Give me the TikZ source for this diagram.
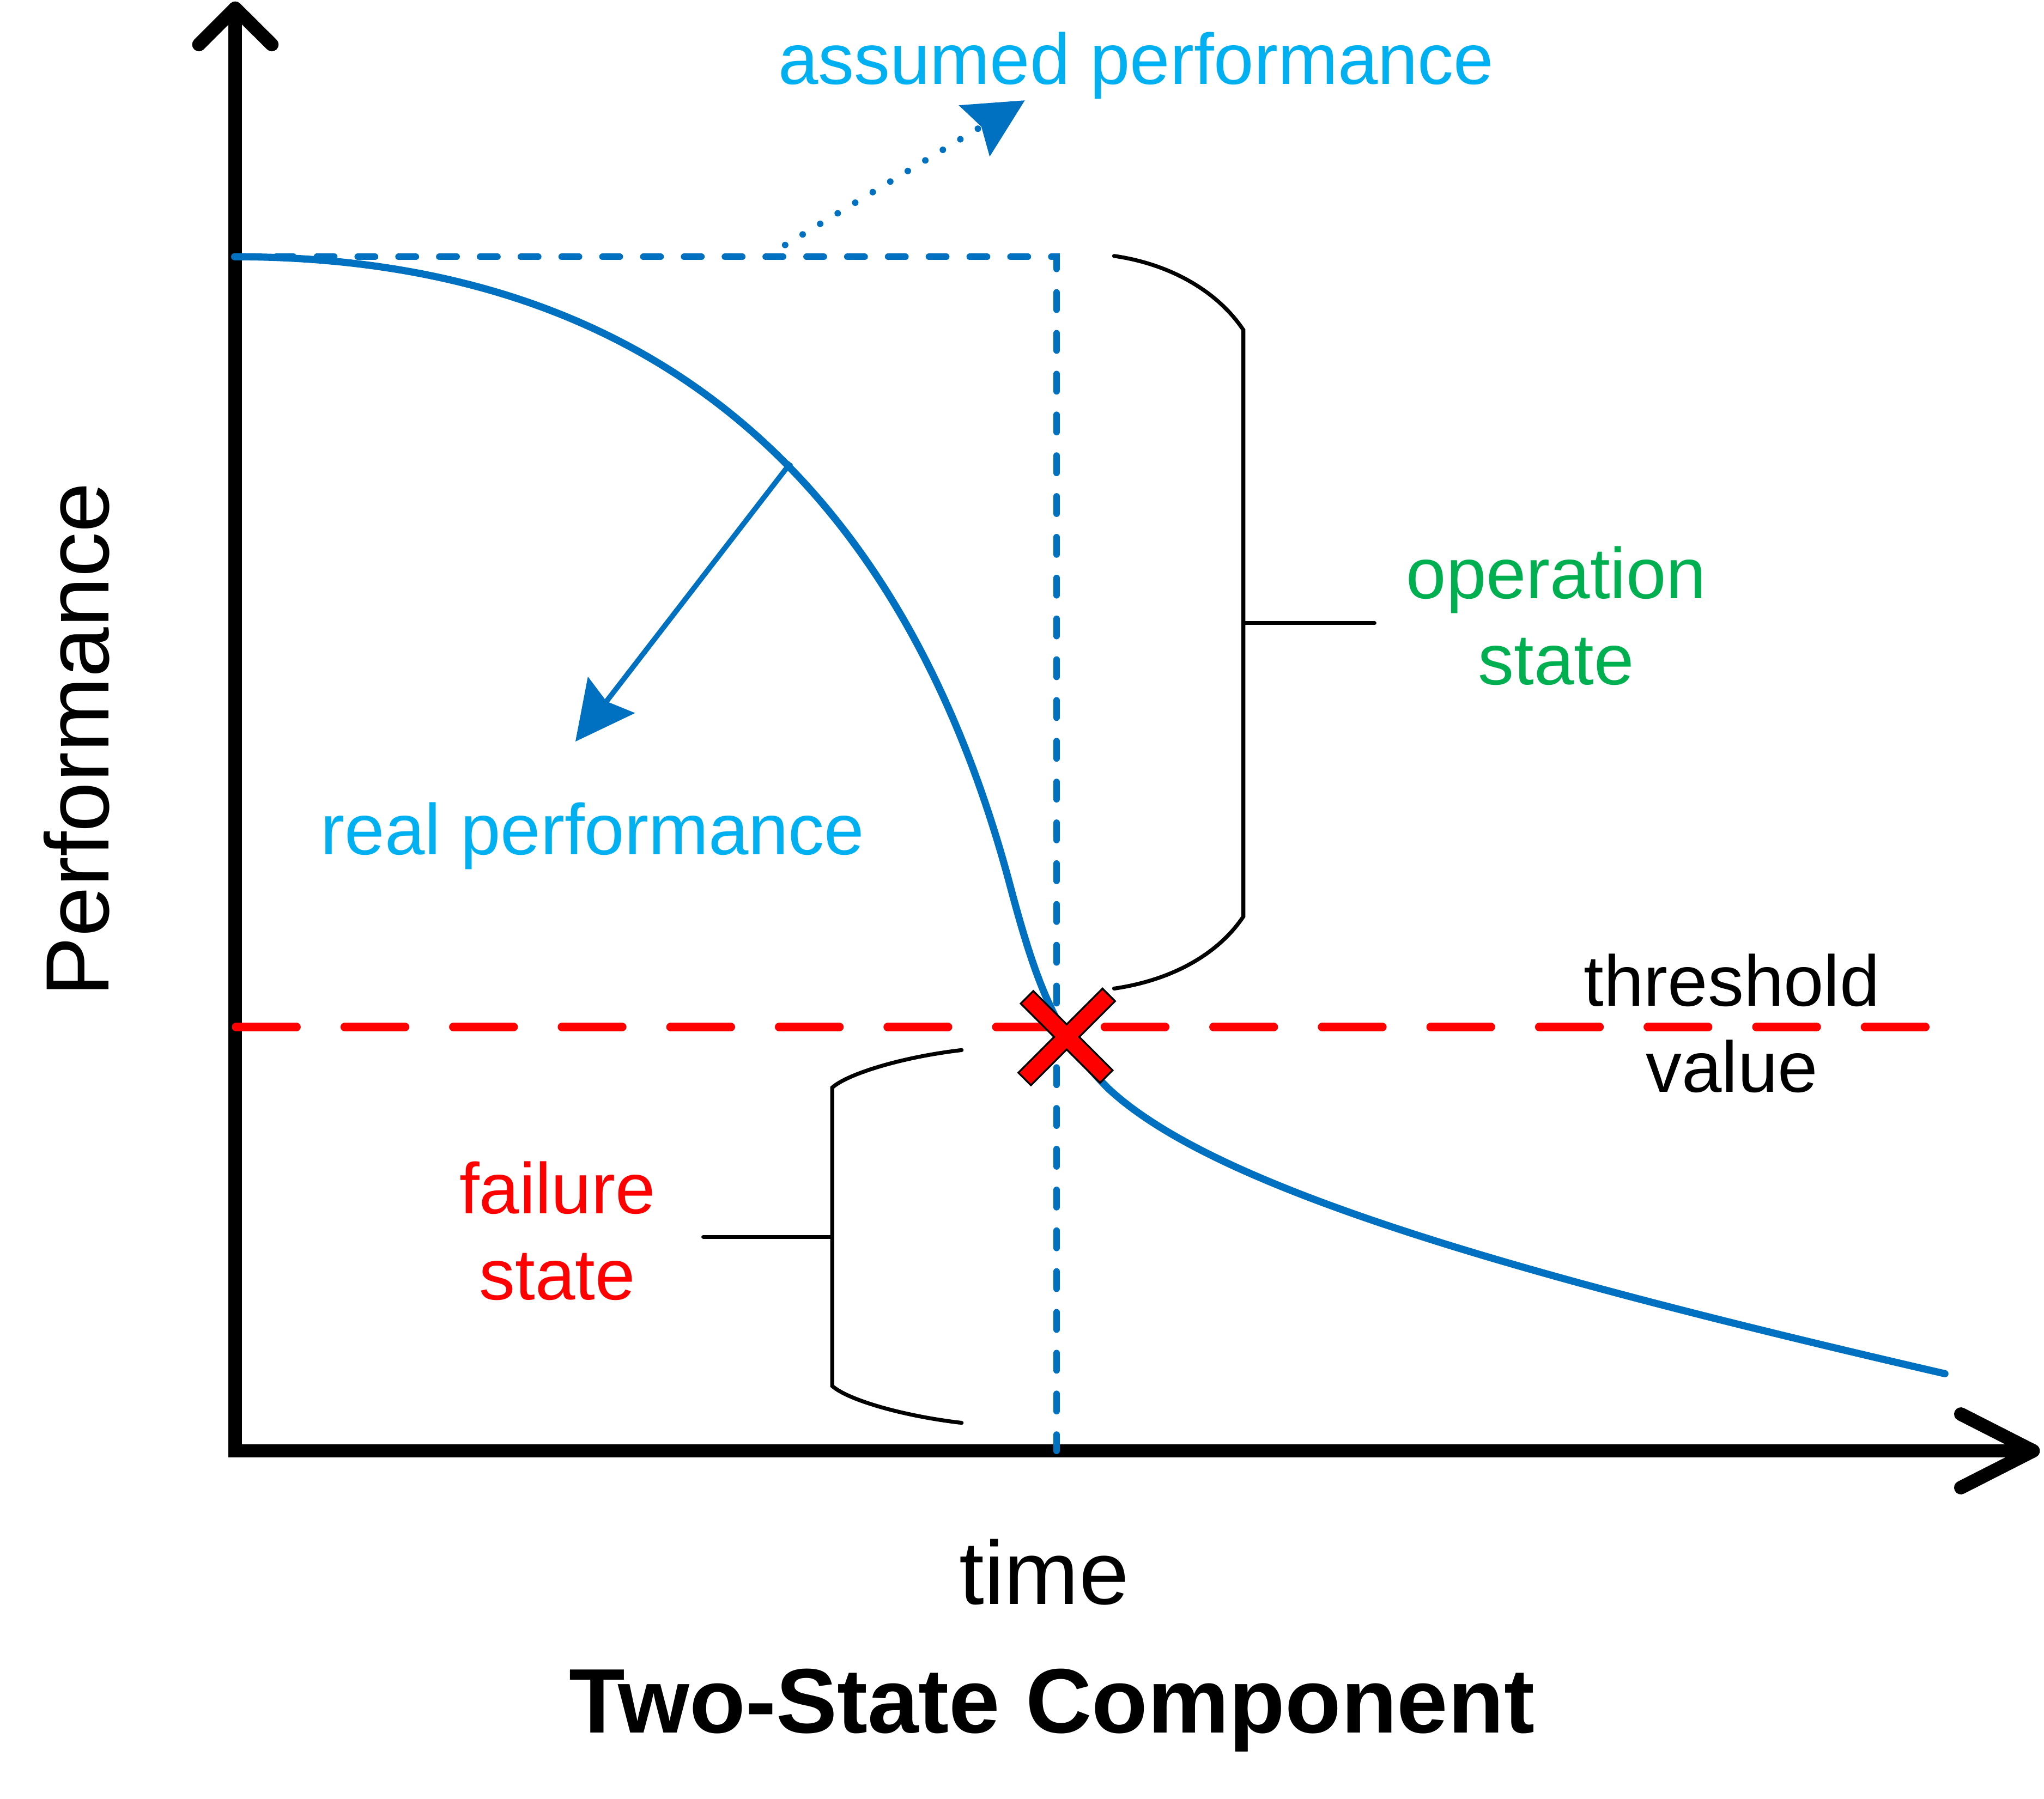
\documentclass[tikz,border=0pt]{standalone}
\usepackage{fontspec}
\setmainfont{Liberation Sans}
\usepackage{xcolor}
\usetikzlibrary{arrows.meta}
\definecolor{TSBlue}{HTML}{0070C0}
\definecolor{TSCyan}{HTML}{00B0F0}
\definecolor{TSGreen}{HTML}{00B050}
\definecolor{TSRed}{HTML}{FF0000}

\begin{document}
\begin{tikzpicture}[x=1cm,y=1cm,
  axisline/.style={line width=0.104cm,line cap=round,line join=round},
  guide/.style={TSBlue,line width=0.05cm,line cap=round,dash pattern=on 0.133cm off 0.18cm},
  limitline/.style={TSRed,line width=0.068cm,line cap=round,dash pattern=on 0.46cm off 0.373cm},
  bracket/.style={line width=0.03cm,line cap=round},
  pointer/.style={TSBlue,-{Stealth[length=0.45cm,width=0.45cm,inset=0.06cm]}},
  smalltext/.style={font=\fontsize{15.7}{18.8}\selectfont,align=center,anchor=base},
  bigtext/.style={font=\fontsize{19.6}{23}\selectfont,anchor=base}]
\path[use as bounding box] (0,0) rectangle (15.68,13.80);
% axes
\draw[line width=0.104cm,line join=miter] (1.804,13.70) -- (1.804,2.668) -- (15.56,2.668);
\draw[axisline] (1.526,13.458) -- (1.804,13.737) -- (2.085,13.458);
\draw[axisline] (15.042,2.950) -- (15.596,2.668) -- (15.042,2.386);
% assumed and real performance
\draw[guide] (1.805,11.829) -- (8.105,11.829) -- (8.105,2.668);
\draw[TSBlue,line width=0.055cm,line cap=round] (1.80,11.83) .. controls (4.90,11.83) and (6.90,10.20) .. (7.75,7.00)
  .. controls (7.95,6.25) and (8.10,5.85) .. (8.50,5.45)
  .. controls (9.30,4.70) and (11.50,4.05) .. (14.92,3.26);
\draw[limitline] (1.813,5.92) -- (14.80,5.92);
% brackets
\coordinate (opmid) at (9.538,9.02);
\coordinate (opend) at (10.544,9.02);
\draw[bracket] (8.546,11.836) .. controls (9.00,11.77) and (9.35,11.55) .. (9.538,11.268)
  -- (9.538,6.768) .. controls (9.35,6.486) and (9.00,6.281) .. (8.546,6.215);
\draw[bracket] (opmid) -- (opend);
\coordinate (failmid) at (6.384,4.31);
\coordinate (failend) at (5.395,4.31);
\draw[bracket] (7.377,5.743) .. controls (6.92,5.69) and (6.50,5.56) .. (6.384,5.455)
  -- (6.384,3.166) .. controls (6.50,3.061) and (6.92,2.936) .. (7.377,2.883);
\draw[bracket] (failmid) -- (failend);
% pointers
\coordinate (realstart) at (6.066,10.25);
\coordinate (realtip) at (4.414,8.11);
\draw[pointer,line width=0.04cm] (realstart) -- (realtip);
\coordinate (asmstart) at (6.023,11.92);
\coordinate (asmtip) at (7.862,13.03);
\draw[pointer,line width=0.05cm,line cap=round,dash pattern=on 0pt off 0.157cm] (asmstart) -- (asmtip);
% failure mark
\begin{scope}[shift={(8.183,5.844)},rotate=45]
\filldraw[fill=TSRed,draw=black,line width=0.4pt] (0.456,0.068) -- (0.068,0.068) -- (0.068,0.43) -- (-0.068,0.43)
  -- (-0.068,0.068) -- (-0.456,0.068) -- (-0.456,-0.068) -- (-0.068,-0.068) -- (-0.068,-0.43)
  -- (0.068,-0.43) -- (0.068,-0.068) -- (0.456,-0.068) -- cycle;
\end{scope}
% labels
\node[smalltext,TSCyan] (assumed) at (8.715,13.155) {assumed performance};
\node[smalltext,TSCyan] (real) at (4.547,7.244) {real performance};
\node[smalltext,TSGreen] (operation) at (11.938,8.547) {operation\\state};
\node[smalltext] (threshold) at (13.285,5.421) {threshold\\value};
\node[smalltext,TSRed] (failure) at (4.276,3.827) {failure\\state};
\node[bigtext] (time) at (8.01,1.49) {time};
\node[bigtext,font=\fontsize{20}{23}\selectfont\bfseries] (title) at (8.069,0.504) {Two-State Component};
\node[bigtext,rotate=90] (perf) at (0.832,8.125) {Performance};
\end{tikzpicture}
\end{document}
